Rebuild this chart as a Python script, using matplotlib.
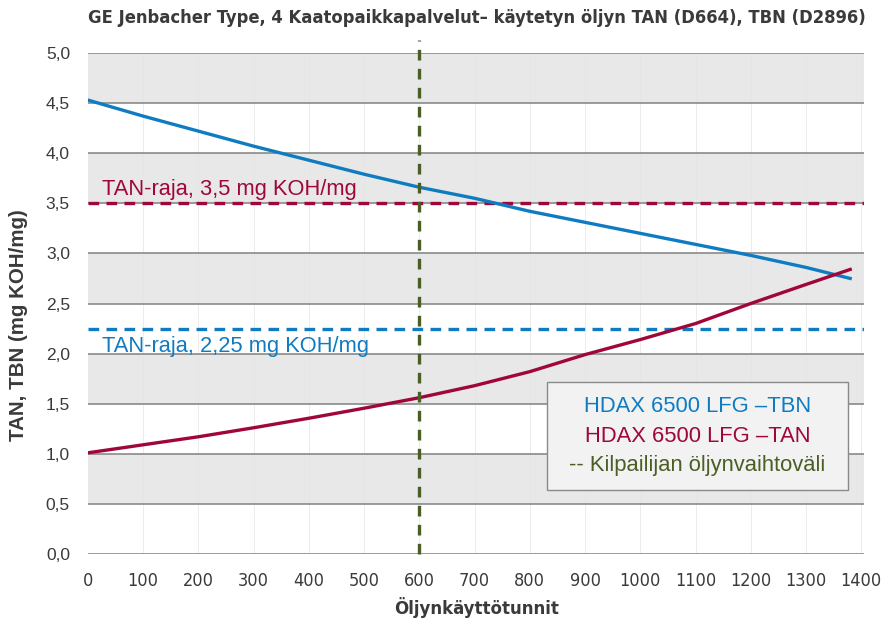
import matplotlib
matplotlib.use("Agg")
import matplotlib.pyplot as plt
from matplotlib.patches import Rectangle

hours = [0, 100, 200, 300, 400, 500, 600, 700, 800, 900, 1000, 1100, 1200, 1300, 1380]
tbn = [4.53, 4.37, 4.22, 4.07, 3.93, 3.79, 3.66, 3.55, 3.42, 3.31, 3.20, 3.09, 2.98, 2.86, 2.75]
tan = [1.01, 1.09, 1.17, 1.26, 1.355, 1.455, 1.56, 1.68, 1.82, 1.99, 2.14, 2.30, 2.50, 2.69, 2.84]
tan_limit_red = 3.5
tan_limit_blue = 2.25
change_interval = 600
xticks = list(range(0, 1401, 100))
yticks = [0.0, 0.5, 1.0, 1.5, 2.0, 2.5, 3.0, 3.5, 4.0, 4.5, 5.0]
ytick_labels = [f"{v:.1f}".replace(".", ",") for v in yticks]

title = "GE Jenbacher Type, 4 Kaatopaikkapalvelut– käytetyn öljyn TAN (D664), TBN (D2896)"
xlabel = "Öljynkäyttötunnit"
ylabel = "TAN, TBN (mg KOH/mg)"
legend_labels = ["HDAX 6500 LFG –TBN", "HDAX 6500 LFG –TAN", "-- Kilpailijan öljynvaihtoväli"]
red_note = "TAN-raja, 3,5 mg KOH/mg"
blue_note = "TAN-raja, 2,25 mg KOH/mg"

BLUE = "#0f7cc2"
RED = "#a0063a"
GREEN = "#4b5e24"
TXT = "#3a3a3a"
reg = "Liberation Sans"
narrow = "DejaVu Sans"

fig = plt.figure(figsize=(8.82, 6.21), dpi=100)
ax = fig.add_axes([88/882, 1-554/621, (864-88)/882, (554-53)/621])
ax.set_xlim(0, 1405)
ax.set_ylim(0, 5.0)

for lo in [0.5, 1.5, 2.5, 3.5, 4.5]:
    ax.axhspan(lo, lo + 0.5, color="#e8e8e8", zorder=0, lw=0)
for x in xticks[1:]:
    ax.axvline(x, color="#e4e4e4", lw=0.5, zorder=0.5)
for y in yticks:
    ax.axhline(y, color="#8a8a8a", lw=1.2, zorder=1)
for s in ax.spines.values():
    s.set_visible(False)

ax.plot(hours, tbn, color=BLUE, lw=2.4, zorder=4)
ax.plot(hours, tan, color=RED, lw=2.4, zorder=4)
ax.axhline(tan_limit_red, color=RED, lw=2.4, ls=(0, (3.2, 2.2)), zorder=3)
ax.axhline(tan_limit_blue, color=BLUE, lw=2.4, ls=(0, (3.2, 2.2)), zorder=3)
ax.plot([change_interval, change_interval], [0, 5.13], color=GREEN, lw=2.4,
        ls=(0, (3.2, 2.5)), zorder=5, clip_on=False)

t_red = ax.text(25, 3.58, red_note, color=RED, fontsize=15, family=reg,
                va="baseline", ha="left")
t_blue = ax.text(25, 2.02, blue_note, color=BLUE, fontsize=15, family=reg,
                 va="baseline", ha="left")

ax.set_xticks(xticks)
ax.set_xticklabels([str(v) for v in xticks], fontsize=13, family=narrow, color=TXT,
                   fontstretch="condensed")
ax.set_yticks(yticks)
ax.set_yticklabels(ytick_labels, fontsize=12.5, family=reg, color=TXT)
ax.tick_params(axis="both", length=0)
ax.tick_params(axis="y", pad=13)
ax.tick_params(axis="x", pad=13)

t_x = fig.text(477/882, 1-607/621, xlabel, fontsize=13, family=narrow, fontweight="bold",
               color=TXT, ha="center", va="center", fontstretch="condensed")
t_y = fig.text(19/882, 1-325/621, ylabel, fontsize=14, family=reg, fontweight="bold",
               color=TXT, ha="center", va="center", rotation=90)
t_title = fig.text(88/882, 1-18/621, title, fontsize=13.5, family=narrow, fontweight="bold",
                   color=TXT, ha="left", va="center", fontstretch="condensed")

bx0, by0, bx1, by1 = 547, 382, 848, 490
fig.patches.append(Rectangle((bx0/882, 1-by1/621), (bx1-bx0)/882, (by1-by0)/621,
                             transform=fig.transFigure, facecolor="#f2f2f2",
                             edgecolor="#8a8a8a", lw=1.0, zorder=10))
cx = (bx0 + bx1) / 2 / 882
leg_texts = []
for lab, col, yy in zip(legend_labels, [BLUE, RED, GREEN], [406, 436, 466]):
    leg_texts.append(fig.text(cx, 1-yy/621, lab, color=col, fontsize=15, family=reg,
                              ha="center", va="center", zorder=11))

renderer = fig.canvas.get_renderer()
def width_of(t, horizontal=True):
    bb = t.get_window_extent(renderer)
    return bb.width if horizontal else bb.height

def fit(t, target, horizontal=True):
    t.set_fontsize(t.get_fontsize() * target / width_of(t, horizontal))

fit(t_title, 780)
fit(t_x, 165)
fit(t_y, 232, horizontal=False)
fit(t_red, 256)
fit(t_blue, 268)
s1 = 15 * 220 / width_of(leg_texts[0])
s3 = 15 * 268 / width_of(leg_texts[2])
s = (s1 + s3) / 2
for t in leg_texts:
    t.set_fontsize(s)

fig.savefig("out.png", dpi=100)
